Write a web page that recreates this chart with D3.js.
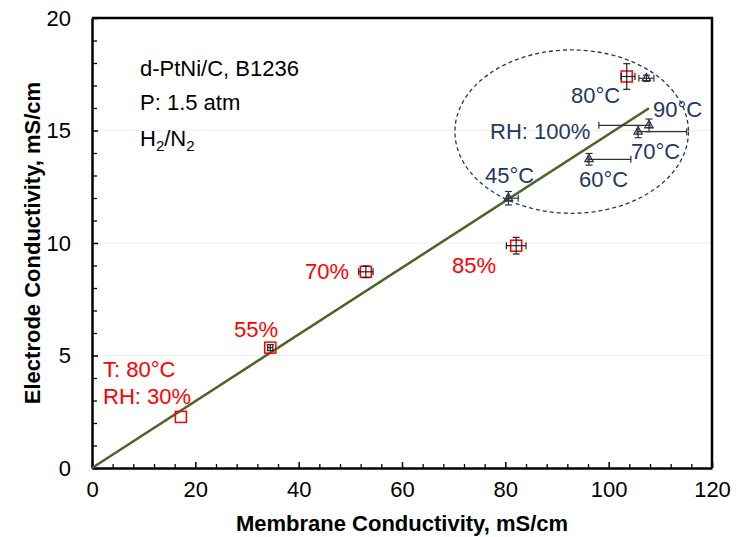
<!DOCTYPE html>
<html>
<head>
<meta charset="utf-8">
<script src="https://cdn.jsdelivr.net/npm/d3@7"></script>
<style>
  html, body { margin: 0; padding: 0; background: #fff; }
  svg { display: block; font-family: "Liberation Sans", Arial, sans-serif; }
</style>
</head>
<body>
<svg id="chart" width="737" height="537"></svg>
<script>
// ---------- data ----------
// Series 1: T = 80 °C, varying RH (red squares)
const rhLabels = ["30%", "55%", "70%", "85%", "100%"];
const rhMembrane = [17.2, 34.5, 53.0, 82.1, 103.5];
const rhElectrode = [2.27, 5.35, 8.72, 9.88, 17.4];
const rhXErrMinus = [0, 0.5, 1.4, 1.9, 1.1];
const rhXErrPlus = [0, 0.5, 1.4, 1.9, 1.6];
const rhYErr = [0, 0.13, 0.26, 0.37, 0.57];

// Series 2: RH = 100 %, varying temperature (blue triangles)
const tempLabels = ["45°C", "60°C", "70°C", "80°C", "90°C"];
const tempMembrane = [80.6, 96.2, 105.7, 107.3, 107.8];
const tempElectrode = [11.99, 13.72, 14.95, 17.32, 15.23];
const tempXErrMinus = [0.3, 0.2, 0.2, 1.45, 9.7];
const tempXErrPlus = [1.9, 8.1, 9.4, 1.45, 0.2];
const tempYErr = [0.3, 0.26, 0.27, 0.14, 0.28];

// Linear trendline through origin
const trendX = [0, 107.8];
const trendY = [0, 15.99];

// Axis ticks
const xMajorTicks = [0, 20, 40, 60, 80, 100, 120];
const yMajorTicks = [0, 5, 10, 15, 20];

// ---------- layout ----------
const W = 737, H = 537;
const margin = { left: 92, right: 25, top: 18, bottom: 69 };
const red = "#ff0000", navy = "#1f3864", olive = "#4f6228";

const svg = d3.select("#chart");
const x = d3.scaleLinear().domain([0, 120]).range([margin.left, W - margin.right]);
const y = d3.scaleLinear().domain([0, 20]).range([H - margin.bottom, margin.top]);

// gridlines
svg.append("g").selectAll("line").data(yMajorTicks.filter(d => d > 0 && d < 20)).join("line")
  .attr("x1", x(0)).attr("x2", x(120)).attr("y1", d => y(d)).attr("y2", d => y(d))
  .attr("stroke", "#eeeeee").attr("stroke-width", 1);

// minor ticks
const xMinor = d3.range(0, 121, 4).filter(d => d % 20 !== 0);
const yMinor = d3.range(0, 21, 1).filter(d => d % 5 !== 0);
svg.append("g").attr("transform", `translate(0,${y(0)})`)
  .call(d3.axisBottom(x).tickValues(xMinor).tickSize(-4).tickFormat(""))
  .call(g => g.select(".domain").remove())
  .call(g => g.selectAll("line").attr("stroke", "#000").attr("stroke-width", 1.3));
svg.append("g").attr("transform", `translate(${x(0)},0)`)
  .call(d3.axisLeft(y).tickValues(yMinor).tickSize(-5).tickFormat(""))
  .call(g => g.select(".domain").remove())
  .call(g => g.selectAll("line").attr("stroke", "#000").attr("stroke-width", 1.3));

// major axes
const xAxis = svg.append("g").attr("transform", `translate(0,${y(0)})`)
  .call(d3.axisBottom(x).tickValues(xMajorTicks).tickSize(-6).tickSizeOuter(0).tickPadding(13));
const yAxis = svg.append("g").attr("transform", `translate(${x(0)},0)`)
  .call(d3.axisLeft(y).tickValues(yMajorTicks).tickSize(-6).tickSizeOuter(0).tickPadding(21));
[xAxis, yAxis].forEach(g => {
  g.selectAll("line").attr("stroke", "#000").attr("stroke-width", 1.5);
  g.select(".domain").attr("stroke", "#000").attr("stroke-width", 2.5);
  g.selectAll("text").attr("font-size", 22).attr("fill", "#000")
    .attr("font-family", "'Liberation Sans', Arial, sans-serif");
});

// top & right border
svg.append("path")
  .attr("d", `M${x(0)},${y(20)}H${x(120)}V${y(0)}`)
  .attr("fill", "none").attr("stroke", "#000").attr("stroke-width", 2.5);

// axis titles
svg.append("text").attr("x", (x(0) + x(120)) / 2).attr("y", 531)
  .attr("text-anchor", "middle").attr("font-size", 22).attr("font-weight", "bold")
  .text("Membrane Conductivity, mS/cm");
svg.append("text").attr("transform", `translate(40,${(y(0) + y(20)) / 2}) rotate(-90)`)
  .attr("text-anchor", "middle").attr("font-size", 22).attr("font-weight", "bold")
  .text("Electrode Conductivity, mS/cm");

// ellipse (grouping of RH 100% points)
const ell = { cx: 92.84, cy: 14.95, rx: 22.6, ry: 3.63 };
svg.append("ellipse")
  .attr("cx", x(ell.cx)).attr("cy", y(ell.cy))
  .attr("rx", x(ell.rx) - x(0)).attr("ry", y(0) - y(ell.ry))
  .attr("fill", "none").attr("stroke", navy).attr("stroke-width", 1.3)
  .attr("stroke-dasharray", "4,3");

// trendline
svg.append("line")
  .attr("x1", x(trendX[0])).attr("y1", y(trendY[0]))
  .attr("x2", x(trendX[1])).attr("y2", y(trendY[1]))
  .attr("stroke", olive).attr("stroke-width", 2.5);

// error bars helper
function errorBars(xs, ys, xm, xp, ye, color) {
  const g = svg.append("g").attr("stroke", color).attr("stroke-width", 1.2).attr("fill", "none");
  const cap = 3.5;
  xs.forEach((xv, i) => {
    const yv = ys[i];
    if (xm[i] > 0 || xp[i] > 0) {
      const xa = x(xv - xm[i]), xb = x(xv + xp[i]), yy = y(yv);
      g.append("line").attr("x1", xa).attr("x2", xb).attr("y1", yy).attr("y2", yy);
      if (xm[i] > 0) g.append("line").attr("x1", xa).attr("x2", xa).attr("y1", yy - cap).attr("y2", yy + cap);
      if (xp[i] > 0) g.append("line").attr("x1", xb).attr("x2", xb).attr("y1", yy - cap).attr("y2", yy + cap);
    }
    if (ye[i] > 0) {
      const ya = y(yv - ye[i]), yb = y(yv + ye[i]), xx = x(xv);
      g.append("line").attr("x1", xx).attr("x2", xx).attr("y1", ya).attr("y2", yb);
      g.append("line").attr("x1", xx - cap).attr("x2", xx + cap).attr("y1", ya).attr("y2", ya);
      g.append("line").attr("x1", xx - cap).attr("x2", xx + cap).attr("y1", yb).attr("y2", yb);
    }
  });
}

// red squares
const sq = 11;
svg.append("g").selectAll("rect").data(rhMembrane).join("rect")
  .attr("x", (d) => x(d) - sq / 2)
  .attr("y", (d, i) => y(rhElectrode[i]) - sq / 2)
  .attr("width", sq).attr("height", sq)
  .attr("fill", "none").attr("stroke", red).attr("stroke-width", 1.5);
errorBars(rhMembrane, rhElectrode, rhXErrMinus, rhXErrPlus, rhYErr, "#222");

// blue triangles
const tri = d3.symbol().type(d3.symbolTriangle).size(30);
svg.append("g").selectAll("path").data(tempMembrane).join("path")
  .attr("d", tri)
  .attr("transform", (d, i) => `translate(${x(d)},${y(tempElectrode[i])})`)
  .attr("fill", "none").attr("stroke", navy).attr("stroke-width", 1.3);
errorBars(tempMembrane, tempElectrode, tempXErrMinus, tempXErrPlus, tempYErr, "#333");

// ---------- annotations ----------
const fs = 22;
// blue labels (left x, baseline y in px)
const tempLabelPos = [[485, 183], [579, 187], [631, 159], [571, 103], [653, 117]];
svg.append("g").selectAll("text").data(tempLabels).join("text")
  .attr("x", (d, i) => tempLabelPos[i][0]).attr("y", (d, i) => tempLabelPos[i][1])
  .attr("font-size", fs).attr("fill", navy).text(d => d);
svg.append("text").attr("x", 490).attr("y", 139).attr("font-size", fs).attr("fill", navy)
  .text("RH: " + rhLabels[4]);

// red labels
const rhLabelPos = [[103, 404], [234, 337], [305, 279], [452, 273]];
svg.append("g").selectAll("text").data(rhLabels.slice(0, 4)).join("text")
  .attr("x", (d, i) => rhLabelPos[i][0]).attr("y", (d, i) => rhLabelPos[i][1])
  .attr("font-size", fs).attr("fill", red)
  .text((d, i) => i === 0 ? "RH: " + d : d);
svg.append("text").attr("x", 103).attr("y", 377).attr("font-size", fs).attr("fill", red)
  .text("T: 80°C");

// info block
const info = svg.append("g").attr("font-size", fs).attr("fill", "#000");
info.append("text").attr("x", 140).attr("y", 76).text("d-PtNi/C, B1236");
info.append("text").attr("x", 140).attr("y", 110).text("P: 1.5 atm");
const h = info.append("text").attr("x", 140).attr("y", 146);
h.append("tspan").text("H");
h.append("tspan").attr("font-size", 15).attr("dy", 5).text("2");
h.append("tspan").attr("dy", -5).text("/N");
h.append("tspan").attr("font-size", 15).attr("dy", 5).text("2");
</script>
</body>
</html>
